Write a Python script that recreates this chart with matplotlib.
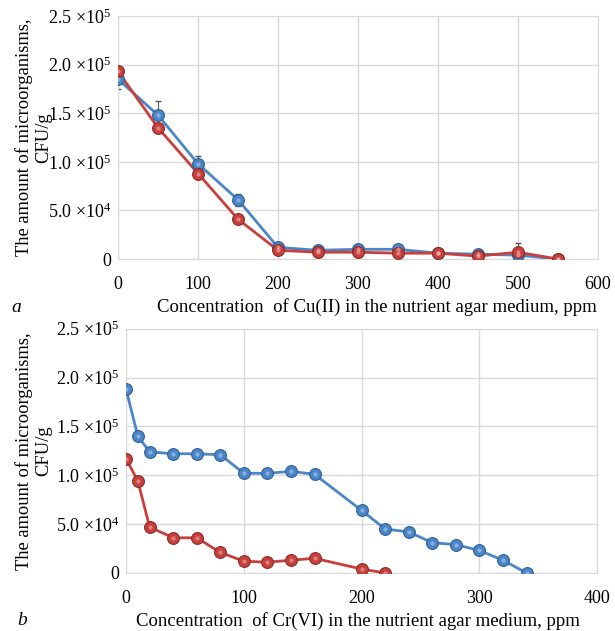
import matplotlib.pyplot as plt
import numpy as np

plt.rcParams['font.family'] = ['Liberation Serif', 'DejaVu Serif']
plt.rcParams['mathtext.fontset'] = 'custom'
plt.rcParams['mathtext.rm'] = 'Liberation Serif'
plt.rcParams['mathtext.it'] = 'Liberation Serif:italic'

# panel a: Cu(II)
cu_x = [0, 50, 100, 150, 200, 250, 300, 350, 400, 450, 500, 550]
cu_blue = [1.85e5, 1.48e5, 0.98e5, 0.61e5, 1.2e4, 0.9e4, 1.0e4, 1.0e4, 0.6e4, 0.5e4, 0.4e4, 0]
cu_blue_err = [0.1e5, 0.15e5, 0.08e5, 0.06e5, 0, 0, 0, 0, 0, 0, 1.2e4, 0]
cu_red = [1.93e5, 1.35e5, 0.88e5, 0.41e5, 0.9e4, 0.7e4, 0.7e4, 0.6e4, 0.6e4, 0.3e4, 0.7e4, 0]

# panel b: Cr(VI)
cr_blue_x = [0, 10, 20, 40, 60, 80, 100, 120, 140, 160, 200, 220, 240, 260, 280, 300, 320, 340]
cr_blue = [1.88e5, 1.40e5, 1.24e5, 1.22e5, 1.22e5, 1.21e5, 1.02e5, 1.02e5, 1.04e5, 1.01e5,
           0.64e5, 0.45e5, 0.42e5, 0.31e5, 0.29e5, 0.23e5, 0.13e5, 0]
cr_red_x = [0, 10, 20, 40, 60, 80, 100, 120, 140, 160, 200, 220]
cr_red = [1.17e5, 0.94e5, 0.47e5, 0.36e5, 0.36e5, 0.21e5, 0.12e5, 0.11e5, 0.13e5, 0.15e5, 0.04e5, 0]

ytick_vals = [0, 5e4, 1e5, 1.5e5, 2e5, 2.5e5]
ytick_labels = ['0', '5.0 ×10$^{4}$', '1.0 ×10$^{5}$', '1.5 ×10$^{5}$', '2.0 ×10$^{5}$', '2.5 ×10$^{5}$']

BLUE = '#4a86c8'
BLUE_EDGE = '#2f5f96'
RED = '#c8403c'
RED_EDGE = '#8c2a27'
GRID = '#d9d9d9'


def series(ax, x, y, c, ec):
    ax.plot(x, y, color=c, lw=2, zorder=3)
    ax.plot(x, y, 'o', ms=8.5, mfc=c, mec=ec, mew=0.8, zorder=4)
    # small highlight to mimic the shaded spheres
    ax.plot(x, y, 'o', ms=3, mfc='white', mec='none', alpha=0.35, zorder=5)


def style(ax, xmax, xstep):
    ax.set_xlim(0, xmax)
    ax.set_ylim(0, 2.5e5)
    ax.set_xticks(np.arange(0, xmax + 1, xstep))
    ax.set_yticks(ytick_vals)
    ax.set_yticklabels(ytick_labels)
    ax.grid(True, color=GRID, lw=1)
    ax.set_axisbelow(True)
    for s in ax.spines.values():
        s.set_color(GRID)
    ax.tick_params(length=0, labelsize=13)
    ax.tick_params(axis='x', pad=12)
    ax.tick_params(axis='y', pad=5)
    ax.set_ylabel('The amount of microorganisms,\nCFU/g', fontsize=13.3, linespacing=1.15)


fig = plt.figure(figsize=(6.15, 6.31), dpi=100)

ax1 = fig.add_axes([0.192, 0.5895, 0.78, 0.385])
ax1.errorbar(cu_x, cu_blue, yerr=cu_blue_err, fmt='none', ecolor='#555555', elinewidth=0.8,
             capsize=2.5, zorder=2)
series(ax1, cu_x, cu_blue, BLUE, BLUE_EDGE)
series(ax1, cu_x, cu_red, RED, RED_EDGE)
style(ax1, 600, 100)
ax1.yaxis.set_label_coords(-0.1375, 0.5)
ax1.set_xlabel('Concentration  of Cu(II) in the nutrient agar medium, ppm', fontsize=13.5, labelpad=3)
ax1.xaxis.set_label_coords(0.539, -0.16)
fig.text(0.027, 0.513, 'a', fontsize=14, style='italic', ha='center', va='center')

ax2 = fig.add_axes([0.205, 0.092, 0.766, 0.387])
series(ax2, cr_blue_x, cr_blue, BLUE, BLUE_EDGE)
series(ax2, cr_red_x, cr_red, RED, RED_EDGE)
style(ax2, 400, 100)
ax2.yaxis.set_label_coords(-0.157, 0.5)
ax2.set_xlabel('Concentration  of Cr(VI) in the nutrient agar medium, ppm', fontsize=13.5, labelpad=3)
ax2.xaxis.set_label_coords(0.4915, -0.16)
fig.text(0.036, 0.016, 'b', fontsize=14, style='italic', ha='center', va='center')

fig.savefig('out.png', dpi=100)
